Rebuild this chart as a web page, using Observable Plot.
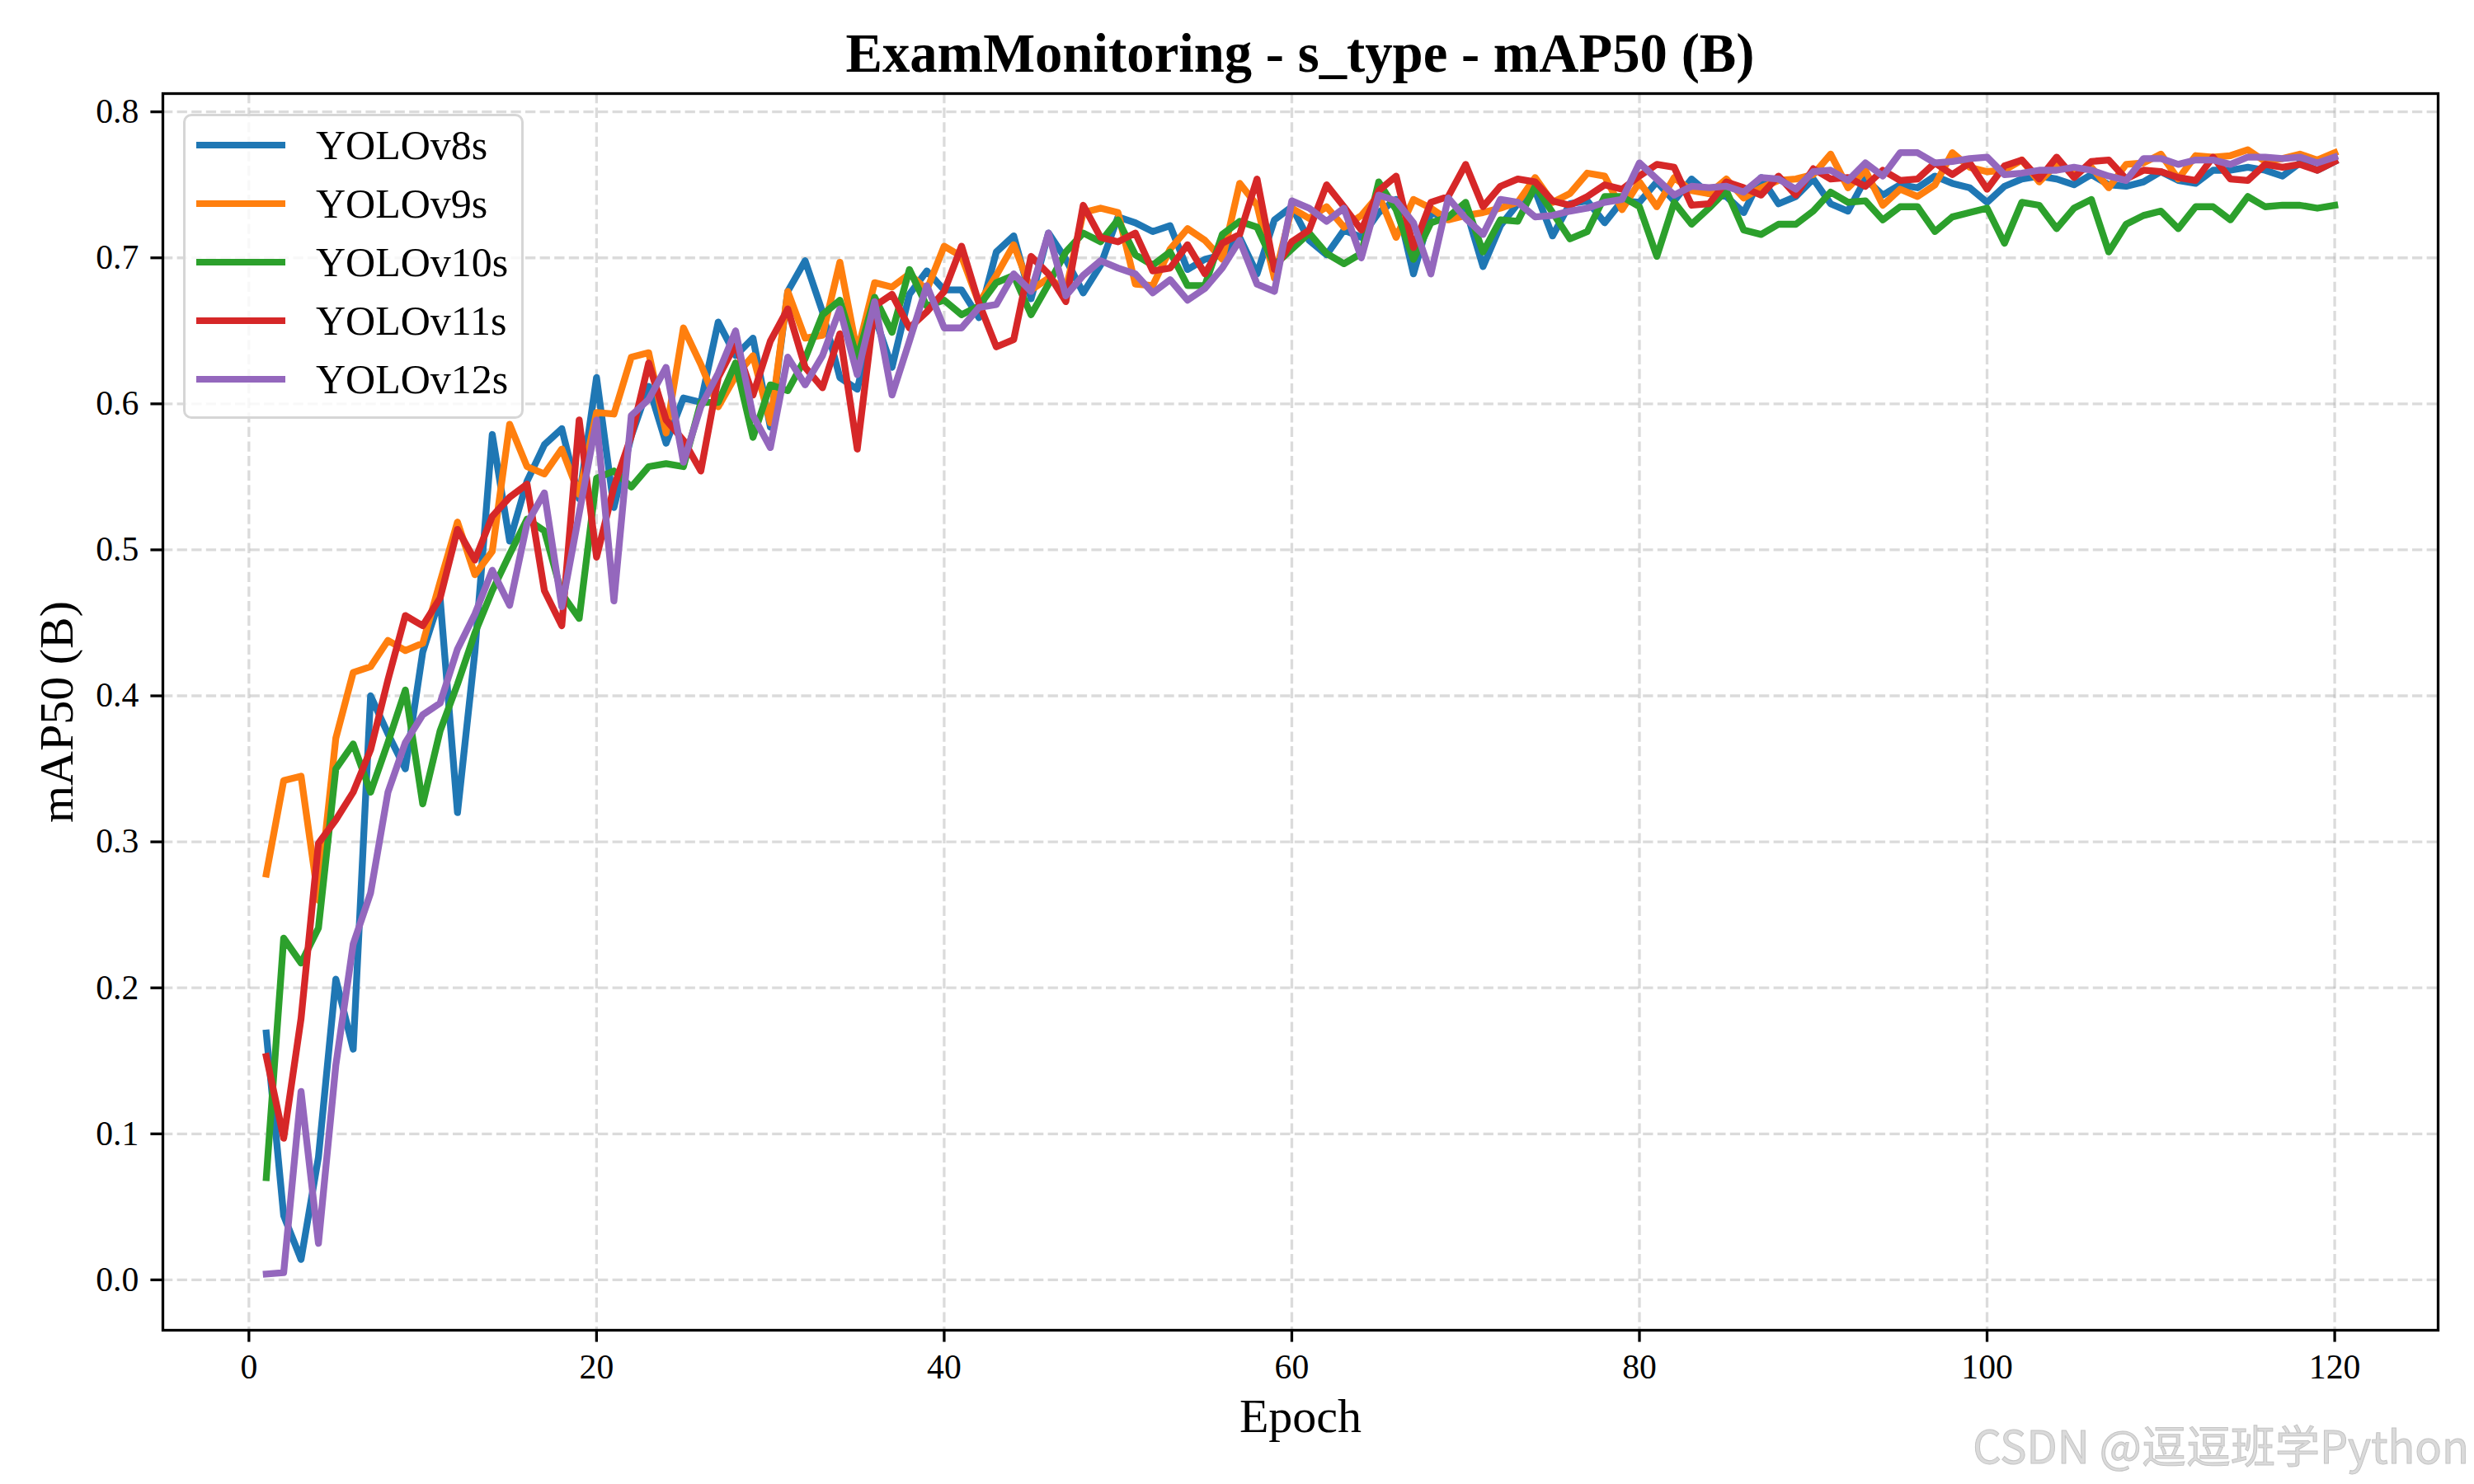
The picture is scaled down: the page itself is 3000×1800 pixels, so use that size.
<!DOCTYPE html>
<html>
<head>
<meta charset="utf-8">
<script src="https://cdn.jsdelivr.net/npm/d3@7"></script>
<script src="https://cdn.jsdelivr.net/npm/@observablehq/plot@0.6"></script>
<style>
  html, body { margin: 0; padding: 0; background: #fff; }
  #wrap { position: relative; width: 3000px; height: 1800px; background: #fff; font-family: "Liberation Serif", "Times New Roman", serif; }
  #title { position: absolute; left: 197px; width: 2759px; top: 32px; text-align: center; font-weight: bold; font-size: 66.7px; line-height: 66.7px; color: #000; }
  #legend { position: absolute; left: 222px; top: 138px; width: 407px; height: 364px; border: 3px solid #d6d6d6; border-radius: 10px; background: rgba(255,255,255,0.8); }
  .row { position: absolute; left: 0; height: 70px; width: 100%; }
  .row .sw { position: absolute; left: 13px; top: 31px; width: 108px; height: 8.3px; }
  .row .lb { position: absolute; left: 158px; top: 0; font-size: 50px; line-height: 70px; color: #000; white-space: nowrap; }
  #wm { position: absolute; right: 6px; top: 1712px; font-family: "Noto Sans CJK SC", sans-serif; font-size: 54px; color: #dadada; -webkit-text-stroke: 1px #c4c4c4; white-space: nowrap; }
</style>
</head>
<body>
<div id="wrap">
  <div id="chart"></div>
  <div id="title">ExamMonitoring - s_type - mAP50 (B)</div>
  <div id="legend"></div>
  <div id="wm">CSDN @逗逗班学Python</div>
</div>
<script>
const models = ["YOLOv8s", "YOLOv9s", "YOLOv10s", "YOLOv11s", "YOLOv12s"];
const colors = ["#1f77b4", "#ff7f0e", "#2ca02c", "#d62728", "#9467bd"];
const epochs = d3.range(1, 121);
const xTicks = [0, 20, 40, 60, 80, 100, 120];
const yTicks = [0.0, 0.1, 0.2, 0.3, 0.4, 0.5, 0.6, 0.7, 0.8];

const v8s = [0.169,0.044,0.014,0.084,0.206,0.158,0.400,0.374,0.350,0.430,
 0.467,0.320,0.430,0.579,0.506,0.547,0.572,0.583,0.535,0.618,
 0.529,0.578,0.612,0.573,0.604,0.601,0.656,0.633,0.645,0.584,
 0.677,0.698,0.663,0.618,0.610,0.660,0.625,0.675,0.691,0.678,
 0.678,0.659,0.704,0.715,0.672,0.717,0.699,0.676,0.695,0.728,
 0.724,0.718,0.722,0.692,0.699,0.702,0.714,0.689,0.726,0.735,
 0.712,0.702,0.719,0.714,0.731,0.740,0.689,0.731,0.727,0.734,
 0.694,0.722,0.737,0.746,0.715,0.737,0.739,0.724,0.739,0.738,
 0.752,0.739,0.754,0.744,0.742,0.731,0.755,0.737,0.742,0.754,
 0.737,0.732,0.754,0.743,0.750,0.748,0.756,0.751,0.748,0.738,
 0.749,0.754,0.756,0.754,0.750,0.757,0.750,0.749,0.752,0.759,
 0.753,0.751,0.760,0.760,0.762,0.760,0.756,0.765,0.760,0.766];
const v9s = [0.278,0.342,0.345,0.260,0.371,0.416,0.420,0.438,0.431,0.436,
 0.478,0.519,0.483,0.499,0.586,0.557,0.552,0.569,0.538,0.594,
 0.593,0.632,0.635,0.580,0.652,0.627,0.598,0.619,0.633,0.587,
 0.677,0.645,0.647,0.697,0.635,0.683,0.680,0.689,0.678,0.708,
 0.701,0.669,0.688,0.709,0.678,0.686,0.678,0.731,0.734,0.731,
 0.682,0.681,0.706,0.720,0.712,0.699,0.751,0.736,0.686,0.734,
 0.727,0.735,0.721,0.729,0.743,0.714,0.740,0.734,0.726,0.729,
 0.731,0.734,0.738,0.755,0.738,0.744,0.758,0.756,0.733,0.752,
 0.735,0.755,0.746,0.744,0.754,0.741,0.748,0.753,0.754,0.757,
 0.771,0.748,0.760,0.736,0.747,0.742,0.750,0.772,0.762,0.759,
 0.760,0.767,0.752,0.764,0.759,0.762,0.748,0.764,0.765,0.771,
 0.754,0.770,0.769,0.770,0.774,0.766,0.768,0.771,0.767,0.772];
const v10s = [0.070,0.234,0.217,0.241,0.350,0.367,0.334,0.368,0.404,0.326,
 0.376,0.408,0.443,0.472,0.497,0.521,0.513,0.470,0.453,0.549,
 0.554,0.543,0.557,0.559,0.557,0.601,0.601,0.628,0.577,0.613,
 0.609,0.631,0.661,0.671,0.631,0.673,0.649,0.692,0.667,0.671,
 0.661,0.667,0.683,0.688,0.661,0.682,0.704,0.717,0.711,0.726,
 0.702,0.695,0.704,0.681,0.681,0.716,0.725,0.721,0.695,0.706,
 0.717,0.703,0.696,0.703,0.752,0.733,0.699,0.724,0.728,0.738,
 0.704,0.726,0.725,0.749,0.731,0.713,0.718,0.742,0.742,0.735,
 0.701,0.738,0.723,0.734,0.746,0.719,0.716,0.723,0.723,0.732,
 0.745,0.738,0.739,0.726,0.735,0.735,0.718,0.728,0.731,0.734,
 0.710,0.738,0.736,0.720,0.734,0.740,0.704,0.723,0.729,0.732,
 0.720,0.735,0.735,0.726,0.742,0.735,0.736,0.736,0.734,0.736];
const v11s = [0.153,0.097,0.179,0.299,0.315,0.334,0.363,0.411,0.455,0.448,
 0.467,0.514,0.493,0.523,0.536,0.545,0.472,0.448,0.589,0.495,
 0.543,0.578,0.628,0.589,0.575,0.554,0.618,0.641,0.606,0.643,
 0.665,0.625,0.611,0.648,0.569,0.667,0.675,0.652,0.663,0.677,
 0.708,0.669,0.639,0.644,0.701,0.689,0.670,0.736,0.714,0.711,
 0.717,0.691,0.693,0.709,0.689,0.710,0.716,0.754,0.692,0.711,
 0.719,0.750,0.735,0.719,0.746,0.756,0.707,0.738,0.742,0.764,
 0.735,0.749,0.754,0.752,0.739,0.736,0.742,0.750,0.747,0.756,
 0.764,0.762,0.736,0.737,0.752,0.748,0.743,0.756,0.743,0.761,
 0.754,0.755,0.749,0.760,0.753,0.754,0.765,0.757,0.765,0.747,
 0.763,0.767,0.754,0.769,0.755,0.766,0.767,0.754,0.760,0.759,
 0.755,0.753,0.769,0.754,0.753,0.764,0.762,0.764,0.760,0.766];
const v12s = [0.004,0.005,0.129,0.025,0.147,0.230,0.265,0.334,0.368,0.387,
 0.395,0.432,0.456,0.486,0.462,0.518,0.539,0.461,0.525,0.589,
 0.465,0.592,0.603,0.625,0.560,0.598,0.621,0.650,0.592,0.570,
 0.632,0.613,0.633,0.665,0.620,0.670,0.606,0.643,0.681,0.652,
 0.652,0.666,0.668,0.689,0.677,0.717,0.674,0.688,0.698,0.693,
 0.689,0.676,0.685,0.671,0.679,0.693,0.712,0.682,0.677,0.739,
 0.734,0.725,0.734,0.700,0.743,0.739,0.724,0.689,0.741,0.727,
 0.716,0.740,0.738,0.728,0.729,0.732,0.734,0.738,0.740,0.765,
 0.754,0.743,0.749,0.748,0.749,0.745,0.755,0.754,0.747,0.759,
 0.760,0.753,0.765,0.756,0.772,0.772,0.765,0.766,0.768,0.769,
 0.757,0.758,0.760,0.760,0.762,0.760,0.756,0.753,0.768,0.768,
 0.764,0.767,0.767,0.764,0.769,0.769,0.768,0.769,0.765,0.769];

const series = [v8s, v9s, v10s, v11s, v12s];
const rows = [];
models.forEach((m, i) => series[i].forEach((v, j) => rows.push({model: m, epoch: epochs[j], value: v})));

const FONT = "Liberation Serif, Times New Roman, serif";
const gridStyle = {stroke: "#b0b0b0", strokeOpacity: 0.45, strokeWidth: 3.3, strokeDasharray: "12.3,5.3"};

const chart = Plot.plot({
  width: 3000,
  height: 1800,
  marginLeft: 197,
  marginRight: 44,
  marginTop: 113,
  marginBottom: 187,
  style: {fontFamily: FONT, background: "white", color: "black"},
  x: {domain: [-4.95, 125.95]},
  y: {domain: [-0.0345, 0.8125]},
  color: {domain: models, range: colors},
  marks: [
    Plot.gridX(xTicks, gridStyle),
    Plot.gridY(yTicks, gridStyle),
    Plot.line(rows, {x: "epoch", y: "value", z: "model", stroke: "model", strokeWidth: 8.3, strokeLinejoin: "round", strokeLinecap: "square"}),
    Plot.frame({stroke: "black", strokeWidth: 3.3}),
    Plot.axisX(xTicks, {label: null, tickSize: 14.6, tickPadding: 14.6, fontSize: 41.7, strokeWidth: 3.3, fontFamily: FONT}),
    Plot.axisY(yTicks, {label: null, tickSize: 14.6, tickPadding: 14.6, fontSize: 41.7, strokeWidth: 3.3, tickFormat: d3.format(".1f"), fontFamily: FONT}),
    Plot.text(["Epoch"], {text: d => d, frameAnchor: "bottom", lineAnchor: "middle", textAnchor: "middle", dy: 105, fontSize: 58, fontFamily: FONT, fill: "black"}),
    Plot.text(["mAP50 (B)"], {text: d => d, frameAnchor: "left", lineAnchor: "middle", textAnchor: "middle", dx: -128, rotate: -90, fontSize: 58, fontFamily: FONT, fill: "black"})
  ]
});
document.getElementById("chart").appendChild(chart);

const legend = document.getElementById("legend");
models.forEach((m, i) => {
  const row = document.createElement("div");
  row.className = "row";
  row.style.top = (i * 71) + "px";
  const sw = document.createElement("div");
  sw.className = "sw";
  sw.style.background = colors[i];
  const lb = document.createElement("div");
  lb.className = "lb";
  lb.textContent = m;
  row.appendChild(sw);
  row.appendChild(lb);
  legend.appendChild(row);
});
</script>
</body>
</html>
